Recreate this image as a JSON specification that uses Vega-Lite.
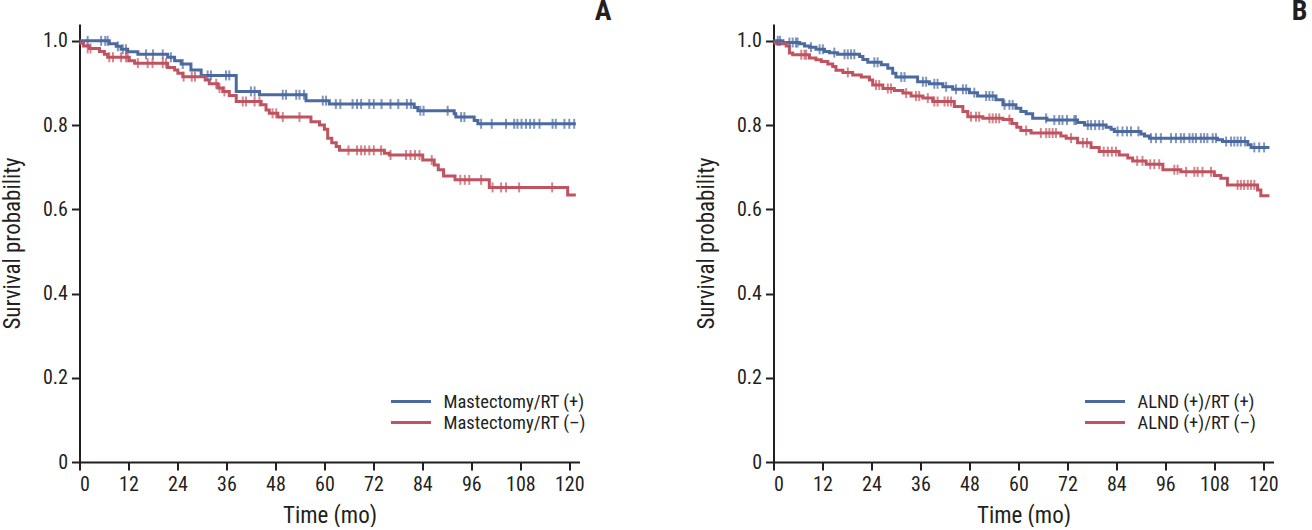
{
  "$schema": "https://vega.github.io/schema/vega-lite/v6.json",
  "padding": {"left": 0.5, "top": -2, "right": 0, "bottom": 0},
  "background": "white",
  "bounds": "flush",
  "spacing": 194,
  "config": {
    "font": "Liberation Sans Narrow, Roboto Condensed, DejaVu Sans Condensed, sans-serif",
    "view": {"stroke": null},
    "axis": {
      "domainColor": "#231f20", "domainWidth": 2, "tickColor": "#231f20", "tickWidth": 2, "tickSize": 8,
      "labelFontSize": 20, "labelColor": "#231f20", "labelPadding": 4,
      "titleFontSize": 23, "titleFontWeight": "normal", "titleColor": "#231f20", "grid": false
    },
    "legend": {"labelFontSize": 18.5, "labelColor": "#231f20"},
    "title": {"fontSize": 28, "fontWeight": "bold", "color": "#231f20"}
  },
  "datasets": {
    "steps": [
      {"panel": "A", "group": "Mastectomy/RT (+)", "time": 0, "surv": 1.0},
      {"panel": "A", "group": "Mastectomy/RT (+)", "time": 7.3, "surv": 0.993},
      {"panel": "A", "group": "Mastectomy/RT (+)", "time": 9.0, "surv": 0.987},
      {"panel": "A", "group": "Mastectomy/RT (+)", "time": 10.2, "surv": 0.980},
      {"panel": "A", "group": "Mastectomy/RT (+)", "time": 11.8, "surv": 0.974},
      {"panel": "A", "group": "Mastectomy/RT (+)", "time": 14.3, "surv": 0.968},
      {"panel": "A", "group": "Mastectomy/RT (+)", "time": 21.6, "surv": 0.961},
      {"panel": "A", "group": "Mastectomy/RT (+)", "time": 23.3, "surv": 0.953},
      {"panel": "A", "group": "Mastectomy/RT (+)", "time": 24.9, "surv": 0.945},
      {"panel": "A", "group": "Mastectomy/RT (+)", "time": 27.3, "surv": 0.931},
      {"panel": "A", "group": "Mastectomy/RT (+)", "time": 29.8, "surv": 0.918},
      {"panel": "A", "group": "Mastectomy/RT (+)", "time": 38.4, "surv": 0.880},
      {"panel": "A", "group": "Mastectomy/RT (+)", "time": 44.1, "surv": 0.872},
      {"panel": "A", "group": "Mastectomy/RT (+)", "time": 55.5, "surv": 0.858},
      {"panel": "A", "group": "Mastectomy/RT (+)", "time": 61.2, "surv": 0.850},
      {"panel": "A", "group": "Mastectomy/RT (+)", "time": 82.0, "surv": 0.842},
      {"panel": "A", "group": "Mastectomy/RT (+)", "time": 82.9, "surv": 0.834},
      {"panel": "A", "group": "Mastectomy/RT (+)", "time": 91.8, "surv": 0.827},
      {"panel": "A", "group": "Mastectomy/RT (+)", "time": 92.2, "surv": 0.819},
      {"panel": "A", "group": "Mastectomy/RT (+)", "time": 96.7, "surv": 0.811},
      {"panel": "A", "group": "Mastectomy/RT (+)", "time": 97.6, "surv": 0.803},
      {"panel": "A", "group": "Mastectomy/RT (+)", "time": 121.6, "surv": 0.803},
      {"panel": "A", "group": "Mastectomy/RT (–)", "time": 0, "surv": 0.994},
      {"panel": "A", "group": "Mastectomy/RT (–)", "time": 1.0, "surv": 0.988},
      {"panel": "A", "group": "Mastectomy/RT (–)", "time": 2.4, "surv": 0.982},
      {"panel": "A", "group": "Mastectomy/RT (–)", "time": 4.9, "surv": 0.975},
      {"panel": "A", "group": "Mastectomy/RT (–)", "time": 6.1, "surv": 0.968},
      {"panel": "A", "group": "Mastectomy/RT (–)", "time": 6.9, "surv": 0.961},
      {"panel": "A", "group": "Mastectomy/RT (–)", "time": 12.2, "surv": 0.953},
      {"panel": "A", "group": "Mastectomy/RT (–)", "time": 13.5, "surv": 0.947},
      {"panel": "A", "group": "Mastectomy/RT (–)", "time": 21.6, "surv": 0.937},
      {"panel": "A", "group": "Mastectomy/RT (–)", "time": 23.3, "surv": 0.931},
      {"panel": "A", "group": "Mastectomy/RT (–)", "time": 24.1, "surv": 0.923},
      {"panel": "A", "group": "Mastectomy/RT (–)", "time": 25.3, "surv": 0.915},
      {"panel": "A", "group": "Mastectomy/RT (–)", "time": 30.8, "surv": 0.907},
      {"panel": "A", "group": "Mastectomy/RT (–)", "time": 31.8, "surv": 0.898},
      {"panel": "A", "group": "Mastectomy/RT (–)", "time": 33.9, "surv": 0.888},
      {"panel": "A", "group": "Mastectomy/RT (–)", "time": 35.1, "surv": 0.880},
      {"panel": "A", "group": "Mastectomy/RT (–)", "time": 36.7, "surv": 0.870},
      {"panel": "A", "group": "Mastectomy/RT (–)", "time": 38.4, "surv": 0.856},
      {"panel": "A", "group": "Mastectomy/RT (–)", "time": 44.5, "surv": 0.848},
      {"panel": "A", "group": "Mastectomy/RT (–)", "time": 45.7, "surv": 0.836},
      {"panel": "A", "group": "Mastectomy/RT (–)", "time": 46.5, "surv": 0.828},
      {"panel": "A", "group": "Mastectomy/RT (–)", "time": 48.6, "surv": 0.819},
      {"panel": "A", "group": "Mastectomy/RT (–)", "time": 56.7, "surv": 0.808},
      {"panel": "A", "group": "Mastectomy/RT (–)", "time": 58.8, "surv": 0.800},
      {"panel": "A", "group": "Mastectomy/RT (–)", "time": 60.0, "surv": 0.790},
      {"panel": "A", "group": "Mastectomy/RT (–)", "time": 60.8, "surv": 0.769},
      {"panel": "A", "group": "Mastectomy/RT (–)", "time": 61.8, "surv": 0.758},
      {"panel": "A", "group": "Mastectomy/RT (–)", "time": 62.9, "surv": 0.749},
      {"panel": "A", "group": "Mastectomy/RT (–)", "time": 63.7, "surv": 0.740},
      {"panel": "A", "group": "Mastectomy/RT (–)", "time": 74.7, "surv": 0.733},
      {"panel": "A", "group": "Mastectomy/RT (–)", "time": 75.9, "surv": 0.729},
      {"panel": "A", "group": "Mastectomy/RT (–)", "time": 84.1, "surv": 0.717},
      {"panel": "A", "group": "Mastectomy/RT (–)", "time": 86.9, "surv": 0.705},
      {"panel": "A", "group": "Mastectomy/RT (–)", "time": 87.9, "surv": 0.694},
      {"panel": "A", "group": "Mastectomy/RT (–)", "time": 89.2, "surv": 0.679},
      {"panel": "A", "group": "Mastectomy/RT (–)", "time": 92.0, "surv": 0.670},
      {"panel": "A", "group": "Mastectomy/RT (–)", "time": 100.4, "surv": 0.652},
      {"panel": "A", "group": "Mastectomy/RT (–)", "time": 119.6, "surv": 0.634},
      {"panel": "A", "group": "Mastectomy/RT (–)", "time": 121.6, "surv": 0.634},
      {"panel": "B", "group": "ALND (+)/RT (+)", "time": 0, "surv": 1.0},
      {"panel": "B", "group": "ALND (+)/RT (+)", "time": 2.3, "surv": 0.996},
      {"panel": "B", "group": "ALND (+)/RT (+)", "time": 6.4, "surv": 0.993},
      {"panel": "B", "group": "ALND (+)/RT (+)", "time": 7.6, "surv": 0.988},
      {"panel": "B", "group": "ALND (+)/RT (+)", "time": 8.8, "surv": 0.985},
      {"panel": "B", "group": "ALND (+)/RT (+)", "time": 10.4, "surv": 0.980},
      {"panel": "B", "group": "ALND (+)/RT (+)", "time": 12.5, "surv": 0.975},
      {"panel": "B", "group": "ALND (+)/RT (+)", "time": 13.7, "surv": 0.972},
      {"panel": "B", "group": "ALND (+)/RT (+)", "time": 15.7, "surv": 0.968},
      {"panel": "B", "group": "ALND (+)/RT (+)", "time": 21.1, "surv": 0.963},
      {"panel": "B", "group": "ALND (+)/RT (+)", "time": 21.9, "surv": 0.956},
      {"panel": "B", "group": "ALND (+)/RT (+)", "time": 23.1, "surv": 0.949},
      {"panel": "B", "group": "ALND (+)/RT (+)", "time": 26.4, "surv": 0.943},
      {"panel": "B", "group": "ALND (+)/RT (+)", "time": 28.0, "surv": 0.935},
      {"panel": "B", "group": "ALND (+)/RT (+)", "time": 29.2, "surv": 0.923},
      {"panel": "B", "group": "ALND (+)/RT (+)", "time": 30.0, "surv": 0.914},
      {"panel": "B", "group": "ALND (+)/RT (+)", "time": 35.3, "surv": 0.903},
      {"panel": "B", "group": "ALND (+)/RT (+)", "time": 38.2, "surv": 0.898},
      {"panel": "B", "group": "ALND (+)/RT (+)", "time": 41.5, "surv": 0.891},
      {"panel": "B", "group": "ALND (+)/RT (+)", "time": 43.9, "surv": 0.885},
      {"panel": "B", "group": "ALND (+)/RT (+)", "time": 48.0, "surv": 0.877},
      {"panel": "B", "group": "ALND (+)/RT (+)", "time": 50.0, "surv": 0.869},
      {"panel": "B", "group": "ALND (+)/RT (+)", "time": 54.5, "surv": 0.860},
      {"panel": "B", "group": "ALND (+)/RT (+)", "time": 56.2, "surv": 0.848},
      {"panel": "B", "group": "ALND (+)/RT (+)", "time": 59.4, "surv": 0.840},
      {"panel": "B", "group": "ALND (+)/RT (+)", "time": 60.6, "surv": 0.832},
      {"panel": "B", "group": "ALND (+)/RT (+)", "time": 61.9, "surv": 0.827},
      {"panel": "B", "group": "ALND (+)/RT (+)", "time": 63.5, "surv": 0.816},
      {"panel": "B", "group": "ALND (+)/RT (+)", "time": 67.0, "surv": 0.812},
      {"panel": "B", "group": "ALND (+)/RT (+)", "time": 74.5, "surv": 0.806},
      {"panel": "B", "group": "ALND (+)/RT (+)", "time": 76.2, "surv": 0.800},
      {"panel": "B", "group": "ALND (+)/RT (+)", "time": 81.5, "surv": 0.795},
      {"panel": "B", "group": "ALND (+)/RT (+)", "time": 82.7, "surv": 0.790},
      {"panel": "B", "group": "ALND (+)/RT (+)", "time": 83.5, "surv": 0.785},
      {"panel": "B", "group": "ALND (+)/RT (+)", "time": 90.0, "surv": 0.779},
      {"panel": "B", "group": "ALND (+)/RT (+)", "time": 90.9, "surv": 0.774},
      {"panel": "B", "group": "ALND (+)/RT (+)", "time": 92.1, "surv": 0.769},
      {"panel": "B", "group": "ALND (+)/RT (+)", "time": 108.8, "surv": 0.765},
      {"panel": "B", "group": "ALND (+)/RT (+)", "time": 110.0, "surv": 0.761},
      {"panel": "B", "group": "ALND (+)/RT (+)", "time": 116.2, "surv": 0.753},
      {"panel": "B", "group": "ALND (+)/RT (+)", "time": 117.0, "surv": 0.747},
      {"panel": "B", "group": "ALND (+)/RT (+)", "time": 121.5, "surv": 0.747},
      {"panel": "B", "group": "ALND (+)/RT (–)", "time": 0, "surv": 0.995},
      {"panel": "B", "group": "ALND (+)/RT (–)", "time": 0.9, "surv": 0.993},
      {"panel": "B", "group": "ALND (+)/RT (–)", "time": 3.1, "surv": 0.988},
      {"panel": "B", "group": "ALND (+)/RT (–)", "time": 3.9, "surv": 0.971},
      {"panel": "B", "group": "ALND (+)/RT (–)", "time": 4.7, "surv": 0.967},
      {"panel": "B", "group": "ALND (+)/RT (–)", "time": 8.8, "surv": 0.959},
      {"panel": "B", "group": "ALND (+)/RT (–)", "time": 10.4, "surv": 0.955},
      {"panel": "B", "group": "ALND (+)/RT (–)", "time": 11.7, "surv": 0.951},
      {"panel": "B", "group": "ALND (+)/RT (–)", "time": 13.3, "surv": 0.945},
      {"panel": "B", "group": "ALND (+)/RT (–)", "time": 14.5, "surv": 0.939},
      {"panel": "B", "group": "ALND (+)/RT (–)", "time": 15.3, "surv": 0.930},
      {"panel": "B", "group": "ALND (+)/RT (–)", "time": 17.0, "surv": 0.925},
      {"panel": "B", "group": "ALND (+)/RT (–)", "time": 19.4, "surv": 0.919},
      {"panel": "B", "group": "ALND (+)/RT (–)", "time": 21.5, "surv": 0.914},
      {"panel": "B", "group": "ALND (+)/RT (–)", "time": 23.5, "surv": 0.907},
      {"panel": "B", "group": "ALND (+)/RT (–)", "time": 24.3, "surv": 0.895},
      {"panel": "B", "group": "ALND (+)/RT (–)", "time": 26.8, "surv": 0.887},
      {"panel": "B", "group": "ALND (+)/RT (–)", "time": 29.6, "surv": 0.882},
      {"panel": "B", "group": "ALND (+)/RT (–)", "time": 31.7, "surv": 0.876},
      {"panel": "B", "group": "ALND (+)/RT (–)", "time": 33.7, "surv": 0.869},
      {"panel": "B", "group": "ALND (+)/RT (–)", "time": 36.6, "surv": 0.864},
      {"panel": "B", "group": "ALND (+)/RT (–)", "time": 39.0, "surv": 0.856},
      {"panel": "B", "group": "ALND (+)/RT (–)", "time": 44.3, "surv": 0.844},
      {"panel": "B", "group": "ALND (+)/RT (–)", "time": 46.4, "surv": 0.832},
      {"panel": "B", "group": "ALND (+)/RT (–)", "time": 47.6, "surv": 0.820},
      {"panel": "B", "group": "ALND (+)/RT (–)", "time": 51.3, "surv": 0.816},
      {"panel": "B", "group": "ALND (+)/RT (–)", "time": 56.2, "surv": 0.813},
      {"panel": "B", "group": "ALND (+)/RT (–)", "time": 58.4, "surv": 0.804},
      {"panel": "B", "group": "ALND (+)/RT (–)", "time": 59.6, "surv": 0.795},
      {"panel": "B", "group": "ALND (+)/RT (–)", "time": 60.6, "surv": 0.787},
      {"panel": "B", "group": "ALND (+)/RT (–)", "time": 63.1, "surv": 0.781},
      {"panel": "B", "group": "ALND (+)/RT (–)", "time": 70.4, "surv": 0.774},
      {"panel": "B", "group": "ALND (+)/RT (–)", "time": 71.7, "surv": 0.769},
      {"panel": "B", "group": "ALND (+)/RT (–)", "time": 74.5, "surv": 0.758},
      {"panel": "B", "group": "ALND (+)/RT (–)", "time": 77.8, "surv": 0.747},
      {"panel": "B", "group": "ALND (+)/RT (–)", "time": 79.8, "surv": 0.737},
      {"panel": "B", "group": "ALND (+)/RT (–)", "time": 84.7, "surv": 0.729},
      {"panel": "B", "group": "ALND (+)/RT (–)", "time": 86.8, "surv": 0.722},
      {"panel": "B", "group": "ALND (+)/RT (–)", "time": 88.0, "surv": 0.715},
      {"panel": "B", "group": "ALND (+)/RT (–)", "time": 91.3, "surv": 0.707},
      {"panel": "B", "group": "ALND (+)/RT (–)", "time": 95.4, "surv": 0.694},
      {"panel": "B", "group": "ALND (+)/RT (–)", "time": 99.8, "surv": 0.689},
      {"panel": "B", "group": "ALND (+)/RT (–)", "time": 108.0, "surv": 0.680},
      {"panel": "B", "group": "ALND (+)/RT (–)", "time": 109.6, "surv": 0.674},
      {"panel": "B", "group": "ALND (+)/RT (–)", "time": 111.2, "surv": 0.658},
      {"panel": "B", "group": "ALND (+)/RT (–)", "time": 118.6, "surv": 0.646},
      {"panel": "B", "group": "ALND (+)/RT (–)", "time": 119.4, "surv": 0.632},
      {"panel": "B", "group": "ALND (+)/RT (–)", "time": 121.5, "surv": 0.632}
    ],
    "censors": [
      {"panel": "A", "group": "Mastectomy/RT (+)", "time": 2.0, "surv": 1.0},
      {"panel": "A", "group": "Mastectomy/RT (+)", "time": 5.3, "surv": 1.0},
      {"panel": "A", "group": "Mastectomy/RT (+)", "time": 6.3, "surv": 1.0},
      {"panel": "A", "group": "Mastectomy/RT (+)", "time": 6.9, "surv": 1.0},
      {"panel": "A", "group": "Mastectomy/RT (+)", "time": 9.4, "surv": 0.987},
      {"panel": "A", "group": "Mastectomy/RT (+)", "time": 10.6, "surv": 0.980},
      {"panel": "A", "group": "Mastectomy/RT (+)", "time": 11.4, "surv": 0.980},
      {"panel": "A", "group": "Mastectomy/RT (+)", "time": 16.3, "surv": 0.968},
      {"panel": "A", "group": "Mastectomy/RT (+)", "time": 18.0, "surv": 0.968},
      {"panel": "A", "group": "Mastectomy/RT (+)", "time": 20.4, "surv": 0.968},
      {"panel": "A", "group": "Mastectomy/RT (+)", "time": 22.4, "surv": 0.961},
      {"panel": "A", "group": "Mastectomy/RT (+)", "time": 25.3, "surv": 0.945},
      {"panel": "A", "group": "Mastectomy/RT (+)", "time": 31.4, "surv": 0.918},
      {"panel": "A", "group": "Mastectomy/RT (+)", "time": 32.2, "surv": 0.918},
      {"panel": "A", "group": "Mastectomy/RT (+)", "time": 35.9, "surv": 0.918},
      {"panel": "A", "group": "Mastectomy/RT (+)", "time": 36.7, "surv": 0.918},
      {"panel": "A", "group": "Mastectomy/RT (+)", "time": 42.0, "surv": 0.880},
      {"panel": "A", "group": "Mastectomy/RT (+)", "time": 42.9, "surv": 0.880},
      {"panel": "A", "group": "Mastectomy/RT (+)", "time": 49.8, "surv": 0.872},
      {"panel": "A", "group": "Mastectomy/RT (+)", "time": 50.6, "surv": 0.872},
      {"panel": "A", "group": "Mastectomy/RT (+)", "time": 53.1, "surv": 0.872},
      {"panel": "A", "group": "Mastectomy/RT (+)", "time": 53.9, "surv": 0.872},
      {"panel": "A", "group": "Mastectomy/RT (+)", "time": 55.0, "surv": 0.872},
      {"panel": "A", "group": "Mastectomy/RT (+)", "time": 59.6, "surv": 0.858},
      {"panel": "A", "group": "Mastectomy/RT (+)", "time": 60.4, "surv": 0.858},
      {"panel": "A", "group": "Mastectomy/RT (+)", "time": 62.8, "surv": 0.850},
      {"panel": "A", "group": "Mastectomy/RT (+)", "time": 63.9, "surv": 0.850},
      {"panel": "A", "group": "Mastectomy/RT (+)", "time": 66.9, "surv": 0.850},
      {"panel": "A", "group": "Mastectomy/RT (+)", "time": 68.0, "surv": 0.850},
      {"panel": "A", "group": "Mastectomy/RT (+)", "time": 69.0, "surv": 0.850},
      {"panel": "A", "group": "Mastectomy/RT (+)", "time": 71.0, "surv": 0.850},
      {"panel": "A", "group": "Mastectomy/RT (+)", "time": 72.1, "surv": 0.850},
      {"panel": "A", "group": "Mastectomy/RT (+)", "time": 74.0, "surv": 0.850},
      {"panel": "A", "group": "Mastectomy/RT (+)", "time": 76.2, "surv": 0.850},
      {"panel": "A", "group": "Mastectomy/RT (+)", "time": 78.1, "surv": 0.850},
      {"panel": "A", "group": "Mastectomy/RT (+)", "time": 80.2, "surv": 0.850},
      {"panel": "A", "group": "Mastectomy/RT (+)", "time": 81.2, "surv": 0.850},
      {"panel": "A", "group": "Mastectomy/RT (+)", "time": 83.5, "surv": 0.834},
      {"panel": "A", "group": "Mastectomy/RT (+)", "time": 84.3, "surv": 0.834},
      {"panel": "A", "group": "Mastectomy/RT (+)", "time": 90.2, "surv": 0.834},
      {"panel": "A", "group": "Mastectomy/RT (+)", "time": 93.5, "surv": 0.819},
      {"panel": "A", "group": "Mastectomy/RT (+)", "time": 94.3, "surv": 0.819},
      {"panel": "A", "group": "Mastectomy/RT (+)", "time": 98.4, "surv": 0.803},
      {"panel": "A", "group": "Mastectomy/RT (+)", "time": 101.0, "surv": 0.803},
      {"panel": "A", "group": "Mastectomy/RT (+)", "time": 104.5, "surv": 0.803},
      {"panel": "A", "group": "Mastectomy/RT (+)", "time": 106.5, "surv": 0.803},
      {"panel": "A", "group": "Mastectomy/RT (+)", "time": 107.3, "surv": 0.803},
      {"panel": "A", "group": "Mastectomy/RT (+)", "time": 108.3, "surv": 0.803},
      {"panel": "A", "group": "Mastectomy/RT (+)", "time": 109.4, "surv": 0.803},
      {"panel": "A", "group": "Mastectomy/RT (+)", "time": 110.4, "surv": 0.803},
      {"panel": "A", "group": "Mastectomy/RT (+)", "time": 111.4, "surv": 0.803},
      {"panel": "A", "group": "Mastectomy/RT (+)", "time": 112.7, "surv": 0.803},
      {"panel": "A", "group": "Mastectomy/RT (+)", "time": 115.9, "surv": 0.803},
      {"panel": "A", "group": "Mastectomy/RT (+)", "time": 116.7, "surv": 0.803},
      {"panel": "A", "group": "Mastectomy/RT (+)", "time": 118.8, "surv": 0.803},
      {"panel": "A", "group": "Mastectomy/RT (+)", "time": 120.0, "surv": 0.803},
      {"panel": "A", "group": "Mastectomy/RT (+)", "time": 121.2, "surv": 0.803},
      {"panel": "A", "group": "Mastectomy/RT (–)", "time": 2.0, "surv": 0.982},
      {"panel": "A", "group": "Mastectomy/RT (–)", "time": 2.7, "surv": 0.982},
      {"panel": "A", "group": "Mastectomy/RT (–)", "time": 7.3, "surv": 0.961},
      {"panel": "A", "group": "Mastectomy/RT (–)", "time": 8.2, "surv": 0.961},
      {"panel": "A", "group": "Mastectomy/RT (–)", "time": 10.2, "surv": 0.961},
      {"panel": "A", "group": "Mastectomy/RT (–)", "time": 11.4, "surv": 0.961},
      {"panel": "A", "group": "Mastectomy/RT (–)", "time": 11.8, "surv": 0.961},
      {"panel": "A", "group": "Mastectomy/RT (–)", "time": 14.3, "surv": 0.947},
      {"panel": "A", "group": "Mastectomy/RT (–)", "time": 16.7, "surv": 0.947},
      {"panel": "A", "group": "Mastectomy/RT (–)", "time": 17.9, "surv": 0.947},
      {"panel": "A", "group": "Mastectomy/RT (–)", "time": 20.4, "surv": 0.947},
      {"panel": "A", "group": "Mastectomy/RT (–)", "time": 21.2, "surv": 0.947},
      {"panel": "A", "group": "Mastectomy/RT (–)", "time": 25.5, "surv": 0.915},
      {"panel": "A", "group": "Mastectomy/RT (–)", "time": 27.5, "surv": 0.915},
      {"panel": "A", "group": "Mastectomy/RT (–)", "time": 28.3, "surv": 0.915},
      {"panel": "A", "group": "Mastectomy/RT (–)", "time": 33.5, "surv": 0.898},
      {"panel": "A", "group": "Mastectomy/RT (–)", "time": 34.3, "surv": 0.888},
      {"panel": "A", "group": "Mastectomy/RT (–)", "time": 35.5, "surv": 0.880},
      {"panel": "A", "group": "Mastectomy/RT (–)", "time": 40.0, "surv": 0.856},
      {"panel": "A", "group": "Mastectomy/RT (–)", "time": 40.8, "surv": 0.856},
      {"panel": "A", "group": "Mastectomy/RT (–)", "time": 42.9, "surv": 0.856},
      {"panel": "A", "group": "Mastectomy/RT (–)", "time": 44.1, "surv": 0.856},
      {"panel": "A", "group": "Mastectomy/RT (–)", "time": 47.3, "surv": 0.828},
      {"panel": "A", "group": "Mastectomy/RT (–)", "time": 48.2, "surv": 0.828},
      {"panel": "A", "group": "Mastectomy/RT (–)", "time": 49.8, "surv": 0.819},
      {"panel": "A", "group": "Mastectomy/RT (–)", "time": 53.9, "surv": 0.819},
      {"panel": "A", "group": "Mastectomy/RT (–)", "time": 65.9, "surv": 0.740},
      {"panel": "A", "group": "Mastectomy/RT (–)", "time": 68.0, "surv": 0.740},
      {"panel": "A", "group": "Mastectomy/RT (–)", "time": 69.0, "surv": 0.740},
      {"panel": "A", "group": "Mastectomy/RT (–)", "time": 69.9, "surv": 0.740},
      {"panel": "A", "group": "Mastectomy/RT (–)", "time": 71.0, "surv": 0.740},
      {"panel": "A", "group": "Mastectomy/RT (–)", "time": 72.1, "surv": 0.740},
      {"panel": "A", "group": "Mastectomy/RT (–)", "time": 73.9, "surv": 0.740},
      {"panel": "A", "group": "Mastectomy/RT (–)", "time": 76.2, "surv": 0.729},
      {"panel": "A", "group": "Mastectomy/RT (–)", "time": 80.0, "surv": 0.729},
      {"panel": "A", "group": "Mastectomy/RT (–)", "time": 81.1, "surv": 0.729},
      {"panel": "A", "group": "Mastectomy/RT (–)", "time": 82.2, "surv": 0.729},
      {"panel": "A", "group": "Mastectomy/RT (–)", "time": 83.3, "surv": 0.729},
      {"panel": "A", "group": "Mastectomy/RT (–)", "time": 86.3, "surv": 0.717},
      {"panel": "A", "group": "Mastectomy/RT (–)", "time": 93.3, "surv": 0.670},
      {"panel": "A", "group": "Mastectomy/RT (–)", "time": 94.4, "surv": 0.670},
      {"panel": "A", "group": "Mastectomy/RT (–)", "time": 95.5, "surv": 0.670},
      {"panel": "A", "group": "Mastectomy/RT (–)", "time": 98.4, "surv": 0.670},
      {"panel": "A", "group": "Mastectomy/RT (–)", "time": 101.2, "surv": 0.652},
      {"panel": "A", "group": "Mastectomy/RT (–)", "time": 103.3, "surv": 0.652},
      {"panel": "A", "group": "Mastectomy/RT (–)", "time": 104.5, "surv": 0.652},
      {"panel": "A", "group": "Mastectomy/RT (–)", "time": 107.7, "surv": 0.652},
      {"panel": "A", "group": "Mastectomy/RT (–)", "time": 115.8, "surv": 0.652},
      {"panel": "B", "group": "ALND (+)/RT (+)", "time": 1.05, "surv": 1.0},
      {"panel": "B", "group": "ALND (+)/RT (+)", "time": 1.6, "surv": 1.0},
      {"panel": "B", "group": "ALND (+)/RT (+)", "time": 3.9, "surv": 0.996},
      {"panel": "B", "group": "ALND (+)/RT (+)", "time": 4.7, "surv": 0.996},
      {"panel": "B", "group": "ALND (+)/RT (+)", "time": 5.5, "surv": 0.996},
      {"panel": "B", "group": "ALND (+)/RT (+)", "time": 5.9, "surv": 0.996},
      {"panel": "B", "group": "ALND (+)/RT (+)", "time": 9.2, "surv": 0.985},
      {"panel": "B", "group": "ALND (+)/RT (+)", "time": 11.3, "surv": 0.980},
      {"panel": "B", "group": "ALND (+)/RT (+)", "time": 12.1, "surv": 0.980},
      {"panel": "B", "group": "ALND (+)/RT (+)", "time": 14.9, "surv": 0.972},
      {"panel": "B", "group": "ALND (+)/RT (+)", "time": 17.4, "surv": 0.968},
      {"panel": "B", "group": "ALND (+)/RT (+)", "time": 18.2, "surv": 0.968},
      {"panel": "B", "group": "ALND (+)/RT (+)", "time": 19.0, "surv": 0.968},
      {"panel": "B", "group": "ALND (+)/RT (+)", "time": 19.8, "surv": 0.968},
      {"panel": "B", "group": "ALND (+)/RT (+)", "time": 24.7, "surv": 0.949},
      {"panel": "B", "group": "ALND (+)/RT (+)", "time": 25.5, "surv": 0.949},
      {"panel": "B", "group": "ALND (+)/RT (+)", "time": 31.3, "surv": 0.914},
      {"panel": "B", "group": "ALND (+)/RT (+)", "time": 32.1, "surv": 0.914},
      {"panel": "B", "group": "ALND (+)/RT (+)", "time": 36.6, "surv": 0.903},
      {"panel": "B", "group": "ALND (+)/RT (+)", "time": 37.4, "surv": 0.903},
      {"panel": "B", "group": "ALND (+)/RT (+)", "time": 39.4, "surv": 0.898},
      {"panel": "B", "group": "ALND (+)/RT (+)", "time": 40.2, "surv": 0.898},
      {"panel": "B", "group": "ALND (+)/RT (+)", "time": 42.3, "surv": 0.891},
      {"panel": "B", "group": "ALND (+)/RT (+)", "time": 44.7, "surv": 0.885},
      {"panel": "B", "group": "ALND (+)/RT (+)", "time": 46.4, "surv": 0.885},
      {"panel": "B", "group": "ALND (+)/RT (+)", "time": 47.2, "surv": 0.885},
      {"panel": "B", "group": "ALND (+)/RT (+)", "time": 49.2, "surv": 0.877},
      {"panel": "B", "group": "ALND (+)/RT (+)", "time": 52.1, "surv": 0.869},
      {"panel": "B", "group": "ALND (+)/RT (+)", "time": 52.9, "surv": 0.869},
      {"panel": "B", "group": "ALND (+)/RT (+)", "time": 53.7, "surv": 0.869},
      {"panel": "B", "group": "ALND (+)/RT (+)", "time": 56.6, "surv": 0.848},
      {"panel": "B", "group": "ALND (+)/RT (+)", "time": 57.8, "surv": 0.848},
      {"panel": "B", "group": "ALND (+)/RT (+)", "time": 58.6, "surv": 0.848},
      {"panel": "B", "group": "ALND (+)/RT (+)", "time": 66.8, "surv": 0.816},
      {"panel": "B", "group": "ALND (+)/RT (+)", "time": 68.8, "surv": 0.812},
      {"panel": "B", "group": "ALND (+)/RT (+)", "time": 70.0, "surv": 0.812},
      {"panel": "B", "group": "ALND (+)/RT (+)", "time": 70.8, "surv": 0.812},
      {"panel": "B", "group": "ALND (+)/RT (+)", "time": 71.9, "surv": 0.812},
      {"panel": "B", "group": "ALND (+)/RT (+)", "time": 73.7, "surv": 0.812},
      {"panel": "B", "group": "ALND (+)/RT (+)", "time": 74.1, "surv": 0.812},
      {"panel": "B", "group": "ALND (+)/RT (+)", "time": 77.0, "surv": 0.800},
      {"panel": "B", "group": "ALND (+)/RT (+)", "time": 77.8, "surv": 0.800},
      {"panel": "B", "group": "ALND (+)/RT (+)", "time": 78.8, "surv": 0.800},
      {"panel": "B", "group": "ALND (+)/RT (+)", "time": 79.8, "surv": 0.800},
      {"panel": "B", "group": "ALND (+)/RT (+)", "time": 80.7, "surv": 0.800},
      {"panel": "B", "group": "ALND (+)/RT (+)", "time": 84.3, "surv": 0.785},
      {"panel": "B", "group": "ALND (+)/RT (+)", "time": 85.5, "surv": 0.785},
      {"panel": "B", "group": "ALND (+)/RT (+)", "time": 86.6, "surv": 0.785},
      {"panel": "B", "group": "ALND (+)/RT (+)", "time": 87.6, "surv": 0.785},
      {"panel": "B", "group": "ALND (+)/RT (+)", "time": 89.4, "surv": 0.785},
      {"panel": "B", "group": "ALND (+)/RT (+)", "time": 92.5, "surv": 0.769},
      {"panel": "B", "group": "ALND (+)/RT (+)", "time": 93.7, "surv": 0.769},
      {"panel": "B", "group": "ALND (+)/RT (+)", "time": 94.9, "surv": 0.769},
      {"panel": "B", "group": "ALND (+)/RT (+)", "time": 97.4, "surv": 0.769},
      {"panel": "B", "group": "ALND (+)/RT (+)", "time": 98.6, "surv": 0.769},
      {"panel": "B", "group": "ALND (+)/RT (+)", "time": 99.8, "surv": 0.769},
      {"panel": "B", "group": "ALND (+)/RT (+)", "time": 100.6, "surv": 0.769},
      {"panel": "B", "group": "ALND (+)/RT (+)", "time": 101.9, "surv": 0.769},
      {"panel": "B", "group": "ALND (+)/RT (+)", "time": 102.7, "surv": 0.769},
      {"panel": "B", "group": "ALND (+)/RT (+)", "time": 103.5, "surv": 0.769},
      {"panel": "B", "group": "ALND (+)/RT (+)", "time": 104.7, "surv": 0.769},
      {"panel": "B", "group": "ALND (+)/RT (+)", "time": 105.5, "surv": 0.769},
      {"panel": "B", "group": "ALND (+)/RT (+)", "time": 106.3, "surv": 0.769},
      {"panel": "B", "group": "ALND (+)/RT (+)", "time": 107.6, "surv": 0.769},
      {"panel": "B", "group": "ALND (+)/RT (+)", "time": 108.4, "surv": 0.769},
      {"panel": "B", "group": "ALND (+)/RT (+)", "time": 110.9, "surv": 0.761},
      {"panel": "B", "group": "ALND (+)/RT (+)", "time": 112.1, "surv": 0.761},
      {"panel": "B", "group": "ALND (+)/RT (+)", "time": 112.9, "surv": 0.761},
      {"panel": "B", "group": "ALND (+)/RT (+)", "time": 113.7, "surv": 0.761},
      {"panel": "B", "group": "ALND (+)/RT (+)", "time": 114.5, "surv": 0.761},
      {"panel": "B", "group": "ALND (+)/RT (+)", "time": 115.5, "surv": 0.761},
      {"panel": "B", "group": "ALND (+)/RT (+)", "time": 117.8, "surv": 0.747},
      {"panel": "B", "group": "ALND (+)/RT (+)", "time": 119.0, "surv": 0.747},
      {"panel": "B", "group": "ALND (+)/RT (+)", "time": 120.2, "surv": 0.747},
      {"panel": "B", "group": "ALND (+)/RT (–)", "time": 6.8, "surv": 0.967},
      {"panel": "B", "group": "ALND (+)/RT (–)", "time": 7.6, "surv": 0.967},
      {"panel": "B", "group": "ALND (+)/RT (–)", "time": 8.0, "surv": 0.967},
      {"panel": "B", "group": "ALND (+)/RT (–)", "time": 18.2, "surv": 0.925},
      {"panel": "B", "group": "ALND (+)/RT (–)", "time": 25.1, "surv": 0.895},
      {"panel": "B", "group": "ALND (+)/RT (–)", "time": 25.9, "surv": 0.895},
      {"panel": "B", "group": "ALND (+)/RT (–)", "time": 28.0, "surv": 0.887},
      {"panel": "B", "group": "ALND (+)/RT (–)", "time": 28.8, "surv": 0.887},
      {"panel": "B", "group": "ALND (+)/RT (–)", "time": 32.5, "surv": 0.876},
      {"panel": "B", "group": "ALND (+)/RT (–)", "time": 34.9, "surv": 0.869},
      {"panel": "B", "group": "ALND (+)/RT (–)", "time": 35.7, "surv": 0.869},
      {"panel": "B", "group": "ALND (+)/RT (–)", "time": 37.8, "surv": 0.864},
      {"panel": "B", "group": "ALND (+)/RT (–)", "time": 39.4, "surv": 0.856},
      {"panel": "B", "group": "ALND (+)/RT (–)", "time": 40.2, "surv": 0.856},
      {"panel": "B", "group": "ALND (+)/RT (–)", "time": 41.9, "surv": 0.856},
      {"panel": "B", "group": "ALND (+)/RT (–)", "time": 42.7, "surv": 0.856},
      {"panel": "B", "group": "ALND (+)/RT (–)", "time": 43.5, "surv": 0.856},
      {"panel": "B", "group": "ALND (+)/RT (–)", "time": 48.4, "surv": 0.820},
      {"panel": "B", "group": "ALND (+)/RT (–)", "time": 49.6, "surv": 0.820},
      {"panel": "B", "group": "ALND (+)/RT (–)", "time": 50.4, "surv": 0.820},
      {"panel": "B", "group": "ALND (+)/RT (–)", "time": 52.9, "surv": 0.816},
      {"panel": "B", "group": "ALND (+)/RT (–)", "time": 53.7, "surv": 0.816},
      {"panel": "B", "group": "ALND (+)/RT (–)", "time": 54.5, "surv": 0.816},
      {"panel": "B", "group": "ALND (+)/RT (–)", "time": 55.3, "surv": 0.816},
      {"panel": "B", "group": "ALND (+)/RT (–)", "time": 57.8, "surv": 0.813},
      {"panel": "B", "group": "ALND (+)/RT (–)", "time": 61.9, "surv": 0.787},
      {"panel": "B", "group": "ALND (+)/RT (–)", "time": 65.5, "surv": 0.781},
      {"panel": "B", "group": "ALND (+)/RT (–)", "time": 66.8, "surv": 0.781},
      {"panel": "B", "group": "ALND (+)/RT (–)", "time": 67.6, "surv": 0.781},
      {"panel": "B", "group": "ALND (+)/RT (–)", "time": 68.4, "surv": 0.781},
      {"panel": "B", "group": "ALND (+)/RT (–)", "time": 69.2, "surv": 0.781},
      {"panel": "B", "group": "ALND (+)/RT (–)", "time": 72.9, "surv": 0.769},
      {"panel": "B", "group": "ALND (+)/RT (–)", "time": 75.8, "surv": 0.758},
      {"panel": "B", "group": "ALND (+)/RT (–)", "time": 76.8, "surv": 0.758},
      {"panel": "B", "group": "ALND (+)/RT (–)", "time": 80.9, "surv": 0.737},
      {"panel": "B", "group": "ALND (+)/RT (–)", "time": 81.9, "surv": 0.737},
      {"panel": "B", "group": "ALND (+)/RT (–)", "time": 82.9, "surv": 0.737},
      {"panel": "B", "group": "ALND (+)/RT (–)", "time": 83.9, "surv": 0.737},
      {"panel": "B", "group": "ALND (+)/RT (–)", "time": 89.1, "surv": 0.715},
      {"panel": "B", "group": "ALND (+)/RT (–)", "time": 90.4, "surv": 0.715},
      {"panel": "B", "group": "ALND (+)/RT (–)", "time": 92.3, "surv": 0.707},
      {"panel": "B", "group": "ALND (+)/RT (–)", "time": 93.3, "surv": 0.707},
      {"panel": "B", "group": "ALND (+)/RT (–)", "time": 94.5, "surv": 0.707},
      {"panel": "B", "group": "ALND (+)/RT (–)", "time": 98.2, "surv": 0.694},
      {"panel": "B", "group": "ALND (+)/RT (–)", "time": 99.0, "surv": 0.694},
      {"panel": "B", "group": "ALND (+)/RT (–)", "time": 101.1, "surv": 0.689},
      {"panel": "B", "group": "ALND (+)/RT (–)", "time": 103.1, "surv": 0.689},
      {"panel": "B", "group": "ALND (+)/RT (–)", "time": 103.9, "surv": 0.689},
      {"panel": "B", "group": "ALND (+)/RT (–)", "time": 105.1, "surv": 0.689},
      {"panel": "B", "group": "ALND (+)/RT (–)", "time": 107.2, "surv": 0.689},
      {"panel": "B", "group": "ALND (+)/RT (–)", "time": 113.7, "surv": 0.658},
      {"panel": "B", "group": "ALND (+)/RT (–)", "time": 114.5, "surv": 0.658},
      {"panel": "B", "group": "ALND (+)/RT (–)", "time": 115.3, "surv": 0.658},
      {"panel": "B", "group": "ALND (+)/RT (–)", "time": 116.2, "surv": 0.658},
      {"panel": "B", "group": "ALND (+)/RT (–)", "time": 117.0, "surv": 0.658},
      {"panel": "B", "group": "ALND (+)/RT (–)", "time": 117.8, "surv": 0.658}
    ]
  },
  "hconcat": [
    {
      "width": 500,
      "height": 438,
      "title": {"text": "A", "anchor": "end", "frame": "group", "dx": 32, "offset": -2},
      "layer": [
        {
          "data": {"name": "steps"},
          "transform": [{"filter": "datum.panel == 'A'"}],
          "mark": {"type": "line", "interpolate": "step-after", "strokeWidth": 3},
          "encoding": {
            "x": {"field": "time", "type": "quantitative", "scale": {"domain": [0, 122.5], "nice": false},
              "axis": {"values": [0, 12, 24, 36, 48, 60, 72, 84, 96, 108, 120], "title": "Time (mo)", "titlePadding": 10}},
            "y": {"field": "surv", "type": "quantitative", "scale": {"domain": [0, 1.04], "nice": false},
              "axis": {"values": [0, 0.2, 0.4, 0.6, 0.8, 1.0], "labelExpr": "datum.value == 0 ? '0' : format(datum.value, '.1f')", "title": "Survival probability", "titlePadding": 18}},
            "color": {"field": "group", "type": "nominal",
              "scale": {"domain": ["Mastectomy/RT (+)", "Mastectomy/RT (–)"], "range": ["#4a6aa0", "#c0535f"]},
              "legend": {"title": null, "orient": "none", "legendX": 320, "legendY": 366, "symbolType": "M-2,0L2,0", "symbolSize": 400, "symbolStrokeWidth": 3, "labelOffset": 21, "rowPadding": 0, "padding": 0}}
          }
        },
        {
          "data": {"name": "censors"},
          "transform": [{"filter": "datum.panel == 'A'"}],
          "mark": {"type": "tick", "orient": "vertical", "size": 10, "thickness": 2},
          "encoding": {
            "x": {"field": "time", "type": "quantitative"},
            "y": {"field": "surv", "type": "quantitative"},
            "color": {"field": "group", "type": "nominal", "legend": null}
          }
        }
      ]
    },
    {
      "width": 500,
      "height": 438,
      "title": {"text": "B", "anchor": "end", "frame": "group", "dx": 34, "offset": -2},
      "layer": [
        {
          "data": {"name": "steps"},
          "transform": [{"filter": "datum.panel == 'B'"}],
          "mark": {"type": "line", "interpolate": "step-after", "strokeWidth": 3},
          "encoding": {
            "x": {"field": "time", "type": "quantitative", "scale": {"domain": [0, 122.5], "nice": false},
              "axis": {"values": [0, 12, 24, 36, 48, 60, 72, 84, 96, 108, 120], "title": "Time (mo)", "titlePadding": 10}},
            "y": {"field": "surv", "type": "quantitative", "scale": {"domain": [0, 1.04], "nice": false},
              "axis": {"values": [0, 0.2, 0.4, 0.6, 0.8, 1.0], "labelExpr": "datum.value == 0 ? '0' : format(datum.value, '.1f')", "title": "Survival probability", "titlePadding": 18}},
            "color": {"field": "group", "type": "nominal",
              "scale": {"domain": ["ALND (+)/RT (+)", "ALND (+)/RT (–)"], "range": ["#4a6aa0", "#c0535f"]},
              "legend": {"title": null, "orient": "none", "legendX": 320, "legendY": 366, "symbolType": "M-2,0L2,0", "symbolSize": 400, "symbolStrokeWidth": 3, "labelOffset": 21, "rowPadding": 0, "padding": 0}}
          }
        },
        {
          "data": {"name": "censors"},
          "transform": [{"filter": "datum.panel == 'B'"}],
          "mark": {"type": "tick", "orient": "vertical", "size": 10, "thickness": 2},
          "encoding": {
            "x": {"field": "time", "type": "quantitative"},
            "y": {"field": "surv", "type": "quantitative"},
            "color": {"field": "group", "type": "nominal", "legend": null}
          }
        }
      ]
    }
  ],
  "resolve": {"scale": {"color": "independent", "x": "independent", "y": "independent"}, "legend": {"color": "independent"}}
}
